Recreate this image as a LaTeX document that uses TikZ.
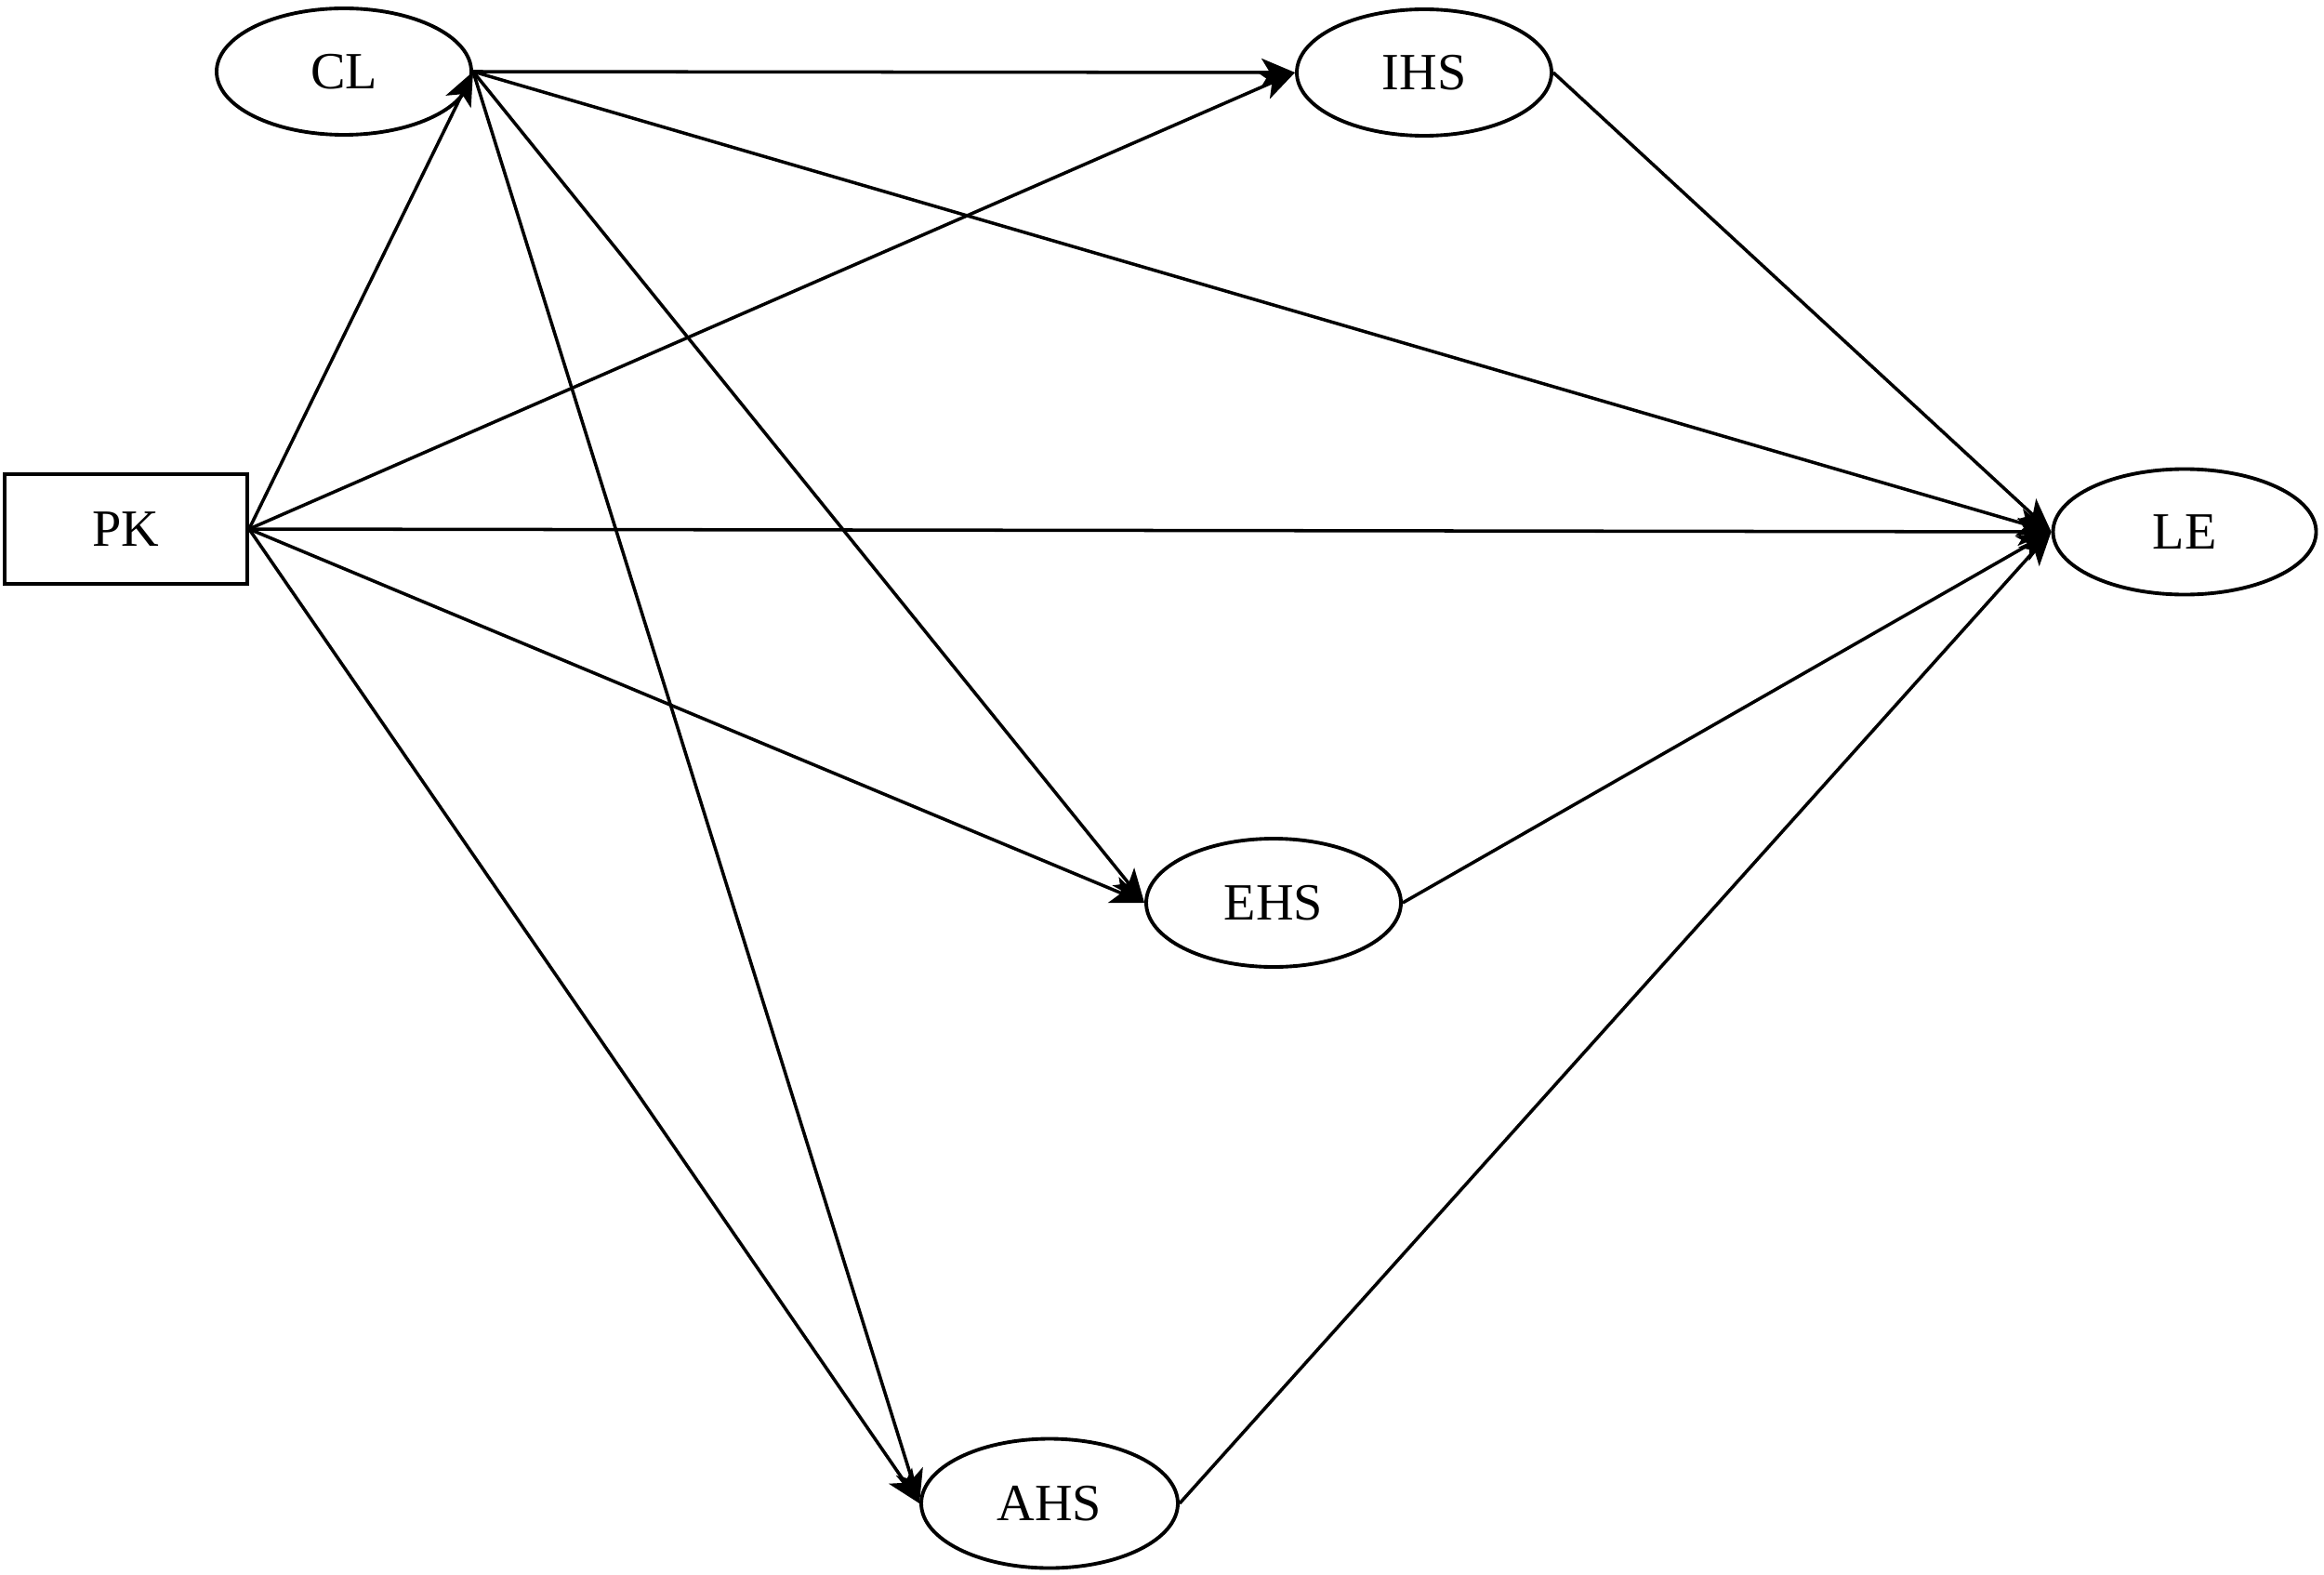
\documentclass[tikz,border=0pt]{standalone}
\usepackage{fontspec}
\setmainfont{Liberation Serif}
\usetikzlibrary{shapes.geometric,arrows.meta}
\begin{document}
\begin{tikzpicture}[
  latent/.style={ellipse,draw,line width=1.1pt,inner sep=0pt,minimum width=2.74cm,minimum height=1.36cm,font=\fontsize{16}{18}\selectfont},
  observed/.style={rectangle,draw,line width=1.1pt,inner sep=0pt,minimum width=2.61cm,minimum height=1.18cm,font=\fontsize{16}{18}\selectfont},
  path/.style={line width=1pt,-{Stealth[length=0.36cm,width=0.3cm,inset=0.09cm]}}
]
\useasboundingbox (0,0) rectangle (25,16.93);
\node[observed] (pk) at (1.355,11.24) {PK};
\node[latent] (cl) at (3.70,16.16) {CL};
\node[latent] (ihs) at (15.32,16.15) {IHS};
\node[latent,minimum width=2.83cm,minimum height=1.35cm] (le) at (23.50,11.21) {LE};
\node[latent,minimum height=1.38cm] (ehs) at (13.70,7.22) {EHS};
\node[latent,minimum width=2.76cm,minimum height=1.39cm] (ahs) at (11.29,0.76) {AHS};

\draw[path] (pk.east) -- (cl.east);
\draw[path] (pk.east) -- (ihs.west);
\draw[path] (pk.east) -- (le.west);
\draw[path] (pk.east) -- (ehs.west);
\draw[path] (pk.east) -- (ahs.west);
\draw[path] (cl.east) -- (ihs.west);
\draw[path] (cl.east) -- (le.west);
\draw[path] (cl.east) -- (ehs.west);
\draw[path] (cl.east) -- (ahs.west);
\draw[path] (ihs.east) -- (le.west);
\draw[path] (ehs.east) -- (le.west);
\draw[path] (ahs.east) -- (le.west);
\end{tikzpicture}
\end{document}
